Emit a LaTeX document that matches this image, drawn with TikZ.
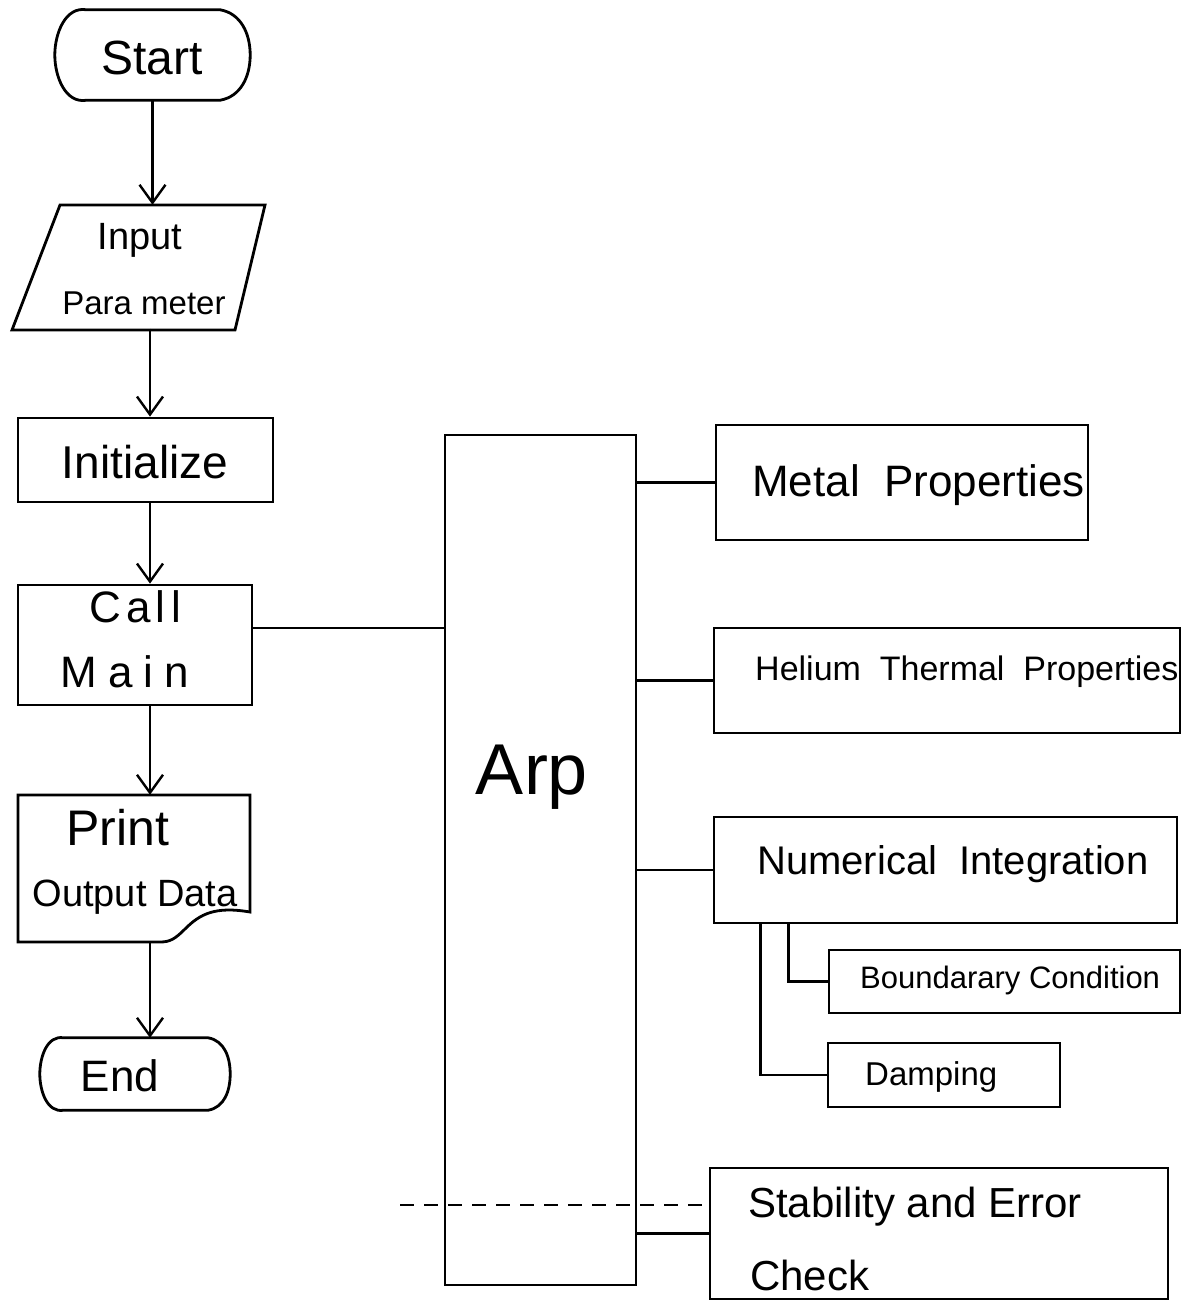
\documentclass[tikz,border=0pt]{standalone}
\usepackage{fontspec}
\setmainfont{Liberation Sans}
\usetikzlibrary{arrows.meta,calc}
\newcommand{\fsz}[1]{\fontsize{#1}{#1}\selectfont}
\tikzset{
  box/.style={draw, line width=2.8pt, inner sep=0pt},
  ghost/.style={inner sep=0pt},
  lbl/.style={inner sep=0pt},
  lblw/.style={inner sep=0pt, anchor=west},
  conn/.style={line width=2.4pt},
  arr/.style={conn, -{Straight Barb[length=18pt, width=26pt, line width=2.4pt]}},
}
\begin{document}
\begin{tikzpicture}[x=1pt, y=-1pt]
\useasboundingbox[fill=white] (0,0) rectangle (1186,1302);

% ---------- left column ----------
\node[ghost, minimum width=195pt, minimum height=90pt] (start) at (152.5,55) {};
\draw[box] ([xshift=32pt]start.north west) -- ([xshift=-30pt]start.north east)
  to[out=-10,in=90] (start.east) to[out=-90,in=10] ([xshift=-30pt]start.south east)
  -- ([xshift=32pt]start.south west) to[out=190,in=-90] (start.west)
  to[out=90,in=170] cycle;
\node[lbl] (tstart) at (152,58) {\fsz{48}Start};

\node[ghost, minimum width=223pt, minimum height=125pt] (input) at (140,267.5) {};
\draw[box] (60,205) -- (265,205) -- (235,330) -- (12,330) -- cycle;
\node[lbl] (tinput) at (140,240) {\fsz{38}Input};
\node[lbl] (tpara) at (144,303) {\fsz{33}Para meter};

\node[box, minimum width=255pt, minimum height=84pt] (init) at (145.5,460) {};
\node[lbl] (tinit) at (145,462) {\fsz{46}Initialize};

\node[box, minimum width=234pt, minimum height=120pt] (call) at (135,645) {};
\node[lbl] (tcall) at (135,607) {\fsz{44}\addfontfeature{LetterSpace=12}Call};
\node[lbl] (tmain) at (125,672) {\fsz{44}\addfontfeature{LetterSpace=25}Main};

\node[ghost, minimum width=232pt, minimum height=147pt] (print) at (134,868.5) {};
\draw[box] (18,795) -- (250,795) -- (250,912)
  .. controls (215,906) and (200,914) .. (185,929)
  .. controls (175,939) and (170,942) .. (160,942) -- (18,942) -- cycle;
\node[lbl] (tprint) at (118,828) {\fsz{50}Print};
\node[lbl] (tout) at (135,897) {\fsz{38}Output Data};

\node[ghost, minimum width=190pt, minimum height=72pt] (end) at (135,1074) {};
\draw[box] ([xshift=24pt]end.north west) -- ([xshift=-22pt]end.north east)
  to[out=-10,in=90] (end.east) to[out=-90,in=10] ([xshift=-22pt]end.south east)
  -- ([xshift=24pt]end.south west) to[out=190,in=-90] (end.west)
  to[out=90,in=170] cycle;
\node[lbl] (tend) at (120,1076) {\fsz{44}End};

% flow arrows
\draw[arr] (start.south) -- (start.south |- input.north);
\draw[arr] (init.north -| 150,0) ++(0,-88) -- ([xshift=4.5pt]init.north);
\draw[arr] ([xshift=4.5pt]init.south) -- ([xshift=4.5pt]init.south |- call.north);
\draw[arr] (call.south -| 150,0) -- (print.north -| 150,0);
\draw[arr] (print.south -| 150,0) -- (end.north -| 150,0);

% ---------- Arp ----------
\node[box, minimum width=191pt, minimum height=850pt] (arp) at (540.5,860) {};
\node[lbl] (tarp) at (532,777) {\fsz{72}Arp};
\draw[conn] ([yshift=17pt]call.east) -- ([yshift=17pt]call.east -| arp.west);

% ---------- right column ----------
\node[box, minimum width=372pt, minimum height=115pt] (metal) at (902,482.5) {};
\node[lblw] (tmetal) at (752,485) {\fsz{44}Metal\ \ Properties};

\node[box, minimum width=466pt, minimum height=105pt] (helium) at (947,680.5) {};
\node[lblw] (thelium) at (755,672) {\fsz{34}Helium\ \ Thermal\ \ Properties};

\node[box, minimum width=463pt, minimum height=106pt] (numint) at (945.5,870) {};
\node[lblw] (tnumint) at (757,864) {\fsz{40}Numerical\ \ Integration};

\node[box, minimum width=351pt, minimum height=63pt] (bound) at (1004.5,981.5) {};
\node[lblw] (tbound) at (860,980) {\fsz{31}Boundarary\ Condition};

\node[box, minimum width=232pt, minimum height=64pt] (damp) at (944,1075) {};
\node[lblw] (tdamp) at (865,1077) {\fsz{33}Damping};

\node[box, minimum width=458pt, minimum height=131pt] (stab) at (939,1233.5) {};
\node[lblw] (tstab) at (748,1207) {\fsz{42}Stability\ and\ Error};
\node[lblw] (tcheck) at (750,1275) {\fsz{42}Check};

% connectors
\draw[conn] (arp.east |- metal.west) -- (metal.west);
\draw[conn] (arp.east |- helium.west) -- (helium.west);
\draw[conn] (arp.east |- numint.west) -- (numint.west);
\draw[conn] (arp.east |- stab.west) -- (stab.west);
\draw[conn] (numint.south west) ++(76,0) |- (bound.west);
\draw[conn] (numint.south west) ++(48,0) |- (damp.west);

% faint dashed scan line
\coordinate (dl) at (400,1205);
\draw[line width=1.2pt, dash pattern=on 14pt off 10pt] (dl) -- (dl -| stab.west);
\end{tikzpicture}
\end{document}
